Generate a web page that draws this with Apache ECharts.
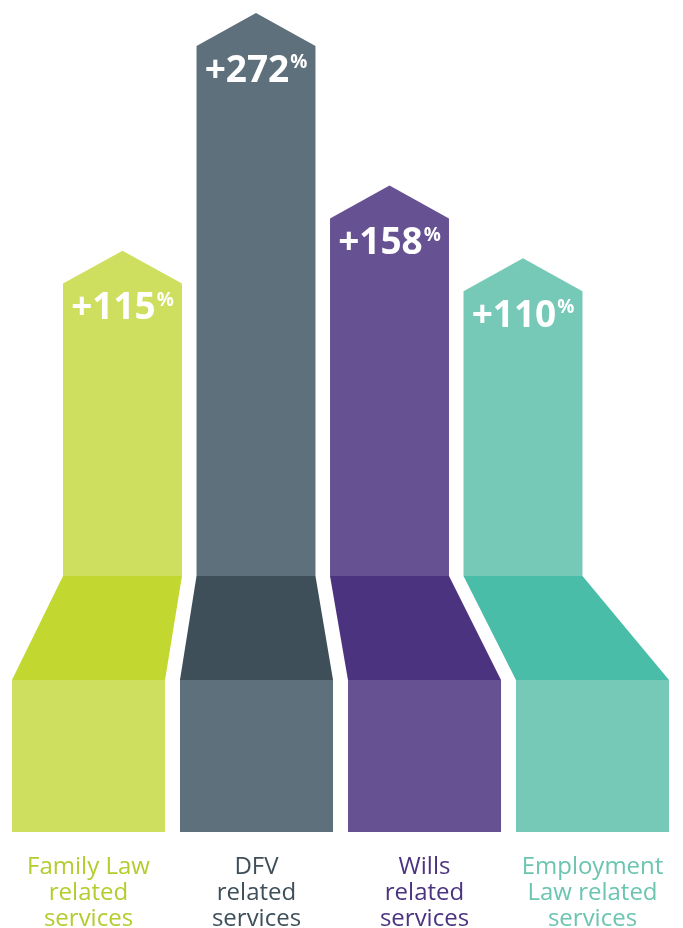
<!DOCTYPE html>
<html><head><meta charset="utf-8">
<script src="https://cdn.jsdelivr.net/npm/echarts@6/dist/echarts.min.js"></script>
<style>html,body{margin:0;padding:0;background:#fff}#c{width:683px;height:928px}</style>
</head><body><div id="c"></div>
<script>
// ---- data ----
const categories = ['Family Law\nrelated\nservices', 'DFV\nrelated\nservices', 'Wills\nrelated\nservices', 'Employment\nLaw related\nservices'];
const changes = [115, 272, 158, 110];   // % increase
const baseline = -100;                   // -100% = no service (start of each arrow)

// ---- styles ----
const lightColors = ['#cedf5f', '#5e707b', '#665192', '#76c9b7'];
const darkColors  = ['#c2d72f', '#3e4f5a', '#4c3380', '#4abda8'];
const textColors  = ['#b5cc2e', '#3e4f5a', '#4c3380', '#6cc5b0'];
const FONT = 'Open Sans';

const chart = echarts.init(document.getElementById('c'), null, { renderer: 'canvas' });
let upperGeom = null;

function arrowItem(params, api) {
  const i = api.value(0), v = api.value(1);
  const apex = api.coord([i, v]);
  const base = api.coord([i, baseline]);
  const w = api.size([1, 0])[0] * 0.891;
  const h = w / 2;
  const drop = w * 0.277;
  return {
    type: 'group',
    children: [
      { type: 'polygon',
        shape: { points: [[apex[0] - h, base[1]], [apex[0] - h, apex[1] + drop], [apex[0], apex[1]], [apex[0] + h, apex[1] + drop], [apex[0] + h, base[1]]] },
        style: { fill: lightColors[i] } },
      { type: 'text', x: apex[0], y: apex[1] + 58,
        style: {
          text: '{a|+' + v + '}{b|%}', align: 'center', verticalAlign: 'middle', fill: '#fff',
          rich: {
            a: { fontSize: 37, fontWeight: 'bold', fontFamily: FONT, fill: '#fff', lineHeight: 40 },
            b: { fontSize: 19, fontWeight: 'bold', fontFamily: FONT, fill: '#fff', verticalAlign: 'top', lineHeight: 22, padding: [2, 0, 0, 1] }
          }
        } }
    ]
  };
}

function rectItem(params, api) {
  const i = api.value(0);
  const top = api.coord([i, 1]);
  const bot = api.coord([i, 0]);
  const w = api.size([1, 0])[0] * 0.911;
  return { type: 'rect', shape: { x: top[0] - w / 2, y: top[1], width: w, height: bot[1] - top[1] }, style: { fill: lightColors[i] } };
}

function trapItem(params, api) {
  if (!upperGeom) return null;
  const i = api.value(0);
  const top = api.coord([i, 1]);
  const bw = api.size([1, 0])[0] * 0.911 / 2;
  const u = upperGeom[i];
  return { type: 'polygon',
    shape: { points: [[u.x - u.h, u.y], [u.x + u.h, u.y], [top[0] + bw, top[1]], [top[0] - bw, top[1]]] },
    style: { fill: darkColors[i] } };
}

const option = {
  animation: false,
  backgroundColor: '#ffffff',
  grid: [
    { left: 55.75, width: 534, top: 1, height: 575, outerBoundsMode: 'none', containLabel: false },
    { left: 4.5, width: 672, top: 680, height: 152, outerBoundsMode: 'none', containLabel: false }
  ],
  xAxis: [
    { gridIndex: 0, type: 'category', data: categories, show: false },
    { gridIndex: 1, type: 'category', data: categories,
      axisLine: { show: false }, axisTick: { show: false },
      axisLabel: { interval: 0, margin: 22, fontFamily: FONT, fontSize: 24, fontWeight: 500, lineHeight: 26,
        color: (val, idx) => textColors[idx] } }
  ],
  yAxis: [
    { gridIndex: 0, type: 'value', min: baseline, max: 280, show: false },
    { gridIndex: 1, type: 'value', min: 0, max: 1, show: false }
  ],
  series: [
    { id: 'arrows', type: 'custom', xAxisIndex: 0, yAxisIndex: 0, renderItem: arrowItem,
      data: changes.map((v, i) => [i, v]), encode: { x: 0, y: 1 } },
    { id: 'rects', type: 'custom', xAxisIndex: 1, yAxisIndex: 1, renderItem: rectItem,
      data: categories.map((c, i) => [i]), encode: { x: 0 } },
    { id: 'traps', type: 'custom', xAxisIndex: 1, yAxisIndex: 1, renderItem: trapItem,
      data: categories.map((c, i) => [i]), encode: { x: 0 } }
  ]
};

chart.setOption(option);
const c0 = chart.convertToPixel({ xAxisIndex: 0, yAxisIndex: 0 }, [0, baseline]);
const c1 = chart.convertToPixel({ xAxisIndex: 0, yAxisIndex: 0 }, [1, baseline]);
const band = c1[0] - c0[0];
upperGeom = changes.map((v, i) => {
  const p = chart.convertToPixel({ xAxisIndex: 0, yAxisIndex: 0 }, [i, baseline]);
  return { x: p[0], y: p[1], h: band * 0.891 / 2 };
});
chart.setOption(option, true);
</script></body></html>
